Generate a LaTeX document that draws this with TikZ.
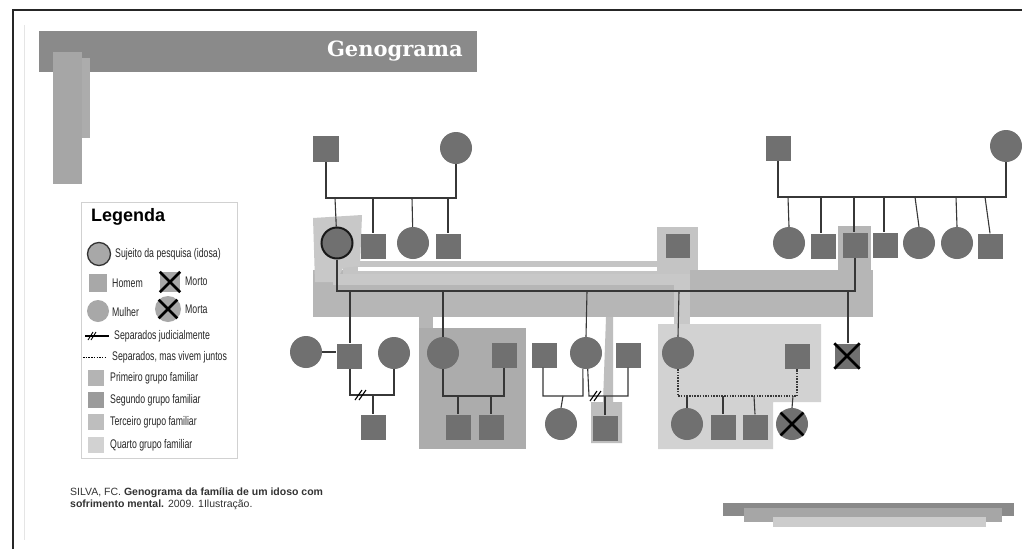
\documentclass[tikz,border=0pt]{standalone}
\usepackage{fontspec}
\setmainfont{Liberation Sans}
\newfontfamily\narrowf{Liberation Sans}[FakeStretch=0.7]
\newfontfamily\titlef{DejaVu Serif}
\definecolor{nodegray}{RGB}{112,112,112}
\definecolor{legsym}{RGB}{168,168,168}
\definecolor{barA}{RGB}{138,138,138}
\definecolor{barB}{RGB}{166,166,166}
\definecolor{barC}{RGB}{172,172,172}
\definecolor{bandmid}{RGB}{182,182,182}
\definecolor{bandlight}{RGB}{200,200,200}
\definecolor{framelight}{RGB}{196,196,196}
\definecolor{grpone}{RGB}{180,180,180}
\definecolor{grptwo}{RGB}{172,172,172}
\definecolor{grpthree}{RGB}{190,190,190}
\definecolor{grpfour}{RGB}{210,210,210}
\definecolor{linecol}{RGB}{55,55,55}
\tikzset{
  male/.style={rectangle, fill=nodegray, minimum size=25pt, inner sep=0pt},
  female/.style={circle, fill=nodegray, minimum size=32pt, inner sep=0pt},
  conn/.style={draw=linecol, line width=1.1pt},
  dotconn/.style={draw=linecol, line width=1.1pt, dash pattern=on 1.5pt off 1.2pt},
  xline/.style={draw=black, line width=2.6pt},
  hashline/.style={draw=black, line width=1.1pt},
  legtext/.style={anchor=west, inner sep=0pt, font=\narrowf\fontsize{12.5}{14}\selectfont, text=black!85},
  swatch/.style={rectangle, minimum size=16pt, inner sep=0pt}
}
\begin{document}
\begin{tikzpicture}[x=1pt,y=-1pt]
\useasboundingbox (0,0) rectangle (1022,549);
\fill[white] (0,0) rectangle (1022,549);
% frame lines
\draw[black!85, line width=1.2pt] (13,549) -- (13,10) -- (1022,10);
\draw[black!10, line width=0.8pt] (24,25) -- (24,540);
% title bar
\fill[barA] (39,31) rectangle (477,72);
\fill[barC] (53,58) rectangle (90,138);
\fill[barB] (53,52) rectangle (82,184);
\node[anchor=east, inner sep=0pt, text=white, font=\titlef\bfseries\fontsize{21}{23}\selectfont] (title) at (463,51) {Genograma};

% ---------- background group shapes ----------
\fill[bandmid] (313,270) rectangle (873,317);
\fill[bandmid] (838,226) rectangle (871,272);
\fill[bandmid] (419,310) rectangle (433,330);
\fill[bandlight] (333,274) rectangle (688,285);
\fill[bandlight] (674,274) rectangle (690,326);
\fill[framelight] (343,261) rectangle (690,274);
\fill[white] (358,267) rectangle (657,271);
\fill[framelight] (657,227) rectangle (698,270);
\fill[bandlight] (313,218) -- (362,215) -- (360,266) -- (343,268) -- (336,282) -- (315,282) -- cycle;
\fill[grptwo] (419,328) rectangle (526,449);
\fill[grpthree] (606,317) -- (613,317) -- (613,402) -- (622,402) -- (622,443) -- (591,443) -- (591,402) -- (603,402) -- cycle;
\fill[grpfour] (658,324) -- (821,324) -- (821,402) -- (773,402) -- (773,449) -- (658,449) -- cycle;

% ---------- top-left family ----------
\node[male, minimum size=26pt] (F1) at (326,149) {};
\node[female] (M1) at (456,148) {};
\node[female, draw=black!90, line width=2pt, minimum size=31pt] (S) at (337,243) {};
\node[male] (B1) at (373,246) {};
\node[female] (Z1) at (413,243) {};
\node[male] (B2) at (448,246) {};
\coordinate (m1L) at (326,198);
\coordinate (m1R) at (456,198);
\coordinate (d1) at (335,198);
\coordinate (d2) at (373,198);
\coordinate (d3) at (412,198);
\coordinate (d4) at (448,198);
\draw[conn] (F1) -- (m1L) -- (m1R) -- (M1);
\draw[conn] (d1) -- (S);
\draw[conn] (d2) -- (B1);
\draw[conn] (d3) -- (Z1);
\draw[conn] (d4) -- (B2);

% single person
\node[male, minimum size=24pt] (P) at (678,246) {};

% ---------- top-right family ----------
\node[male] (F2) at (778,148) {};
\node[female] (M2) at (1006,146) {};
\node[female] (C1) at (789,243) {};
\node[male] (C2) at (823,246) {};
\node[male] (H) at (855,245) {};
\node[male] (C3) at (885,245) {};
\node[female] (C4) at (919,243) {};
\node[female] (C5) at (957,243) {};
\node[male] (C6) at (990,246) {};
\coordinate (m2L) at (778,197);
\coordinate (m2R) at (1006,197);
\coordinate (e1) at (788,197);
\coordinate (e2) at (821,197);
\coordinate (e3) at (854,197);
\coordinate (e4) at (884,197);
\coordinate (e5) at (915,197);
\coordinate (e6) at (956,197);
\coordinate (e7) at (985,197);
\draw[conn] (F2) -- (m2L) -- (m2R) -- (M2);
\draw[conn] (e1) -- (C1.north);
\draw[conn] (e2) -- (C2.north -| e2);
\draw[conn] (e3) -- (H.north -| e3);
\draw[conn] (e4) -- (C3.north -| e4);
\draw[conn] (e5) -- (C4.north);
\draw[conn] (e6) -- (C5.north);
\draw[conn] (e7) -- (C6.north);

% ---------- main couple ----------
\coordinate (mmL) at (337,291);
\coordinate (mmR) at (855,291);
\draw[conn] (S) -- (mmL) -- (mmR) -- (H);

\node[male] (K1) at (349,356) {};
\node[female] (K2) at (443,353) {};
\node[female] (K3) at (586,353) {};
\node[female] (K4) at (678,353) {};
\node[male] (K5) at (847,356) {};
\coordinate (k1t) at (350,291);
\coordinate (k2t) at (443,291);
\coordinate (k3t) at (587,291);
\coordinate (k4t) at (679,291);
\coordinate (k5t) at (848,291);
\draw[conn] (k1t) -- (K1.north -| k1t);
\draw[conn] (k2t) -- (K2.north);
\draw[conn] (k3t) -- (K3.north);
\draw[conn] (k4t) -- (K4.north);
\draw[conn] (k5t) -- (K5.north -| k5t);
\draw[xline] (K5.north west) -- (K5.south east) (K5.north east) -- (K5.south west);

% ---------- K1 family ----------
\node[female] (W1) at (306,352) {};
\node[female] (W2) at (394,353) {};
\node[male] (G1) at (373,427) {};
\draw[conn] (W1.east) -- (K1.west |- W1.east);
\coordinate (s1L) at (350,395);
\coordinate (s1R) at (394,395);
\coordinate (s1c) at (373,395);
\coordinate (h1) at (360,395);
\draw[conn] (K1.south -| s1L) -- (s1L) -- (s1R) -- (W2.south);
\draw[conn] (s1c) -- (G1.north);
\draw[hashline] (h1) ++(-5,5) -- ++(7,-10);
\draw[hashline] (h1) ++(-1,5) -- ++(7,-10);

% ---------- K2 family ----------
\node[male] (H2) at (504,355) {};
\node[male] (G2) at (458,427) {};
\node[male] (G3) at (491,427) {};
\coordinate (s2L) at (443,396);
\coordinate (s2R) at (504,396);
\coordinate (g2t) at (458,396);
\coordinate (g3t) at (491,396);
\draw[conn] (K2.south) -- (s2L) -- (s2R) -- (H2.south);
\draw[conn] (g2t) -- (G2.north);
\draw[conn] (g3t) -- (G3.north);

% ---------- K3 family ----------
\node[male] (L1) at (544,355) {};
\node[male] (R1) at (628,355) {};
\node[female] (G4) at (561,424) {};
\node[male] (G5) at (605,428) {};
\coordinate (s3L) at (543,396);
\coordinate (s3R) at (583,396);
\coordinate (g4t) at (563,396);
\draw[conn] (L1.south -| s3L) -- (s3L) -- (s3R) -- (K3.259);
\draw[conn] (g4t) -- (G4.north);
\coordinate (s4L) at (589,396);
\coordinate (s4R) at (628,396);
\coordinate (g5t) at (605,396);
\coordinate (h2) at (595,396);
\draw[conn] (K3.276) -- (s4L) -- (s4R) -- (R1.south);
\draw[conn] (g5t) -- (G5.north);
\draw[hashline] (h2) ++(-5,5) -- ++(7,-10);
\draw[hashline] (h2) ++(-1,5) -- ++(7,-10);

% ---------- K4 family ----------
\node[male] (H4) at (797,356) {};
\node[female] (G6) at (687,424) {};
\node[male] (G7) at (723,427) {};
\node[male] (G8) at (755,427) {};
\node[female] (G9) at (792,424) {};
\coordinate (s5L) at (678,396);
\coordinate (s5R) at (797,396);
\coordinate (g6t) at (687,396);
\coordinate (g7t) at (723,396);
\coordinate (g8t) at (754,396);
\coordinate (g9t) at (793,396);
\draw[dotconn] (K4.south) -- (s5L) -- (s5R) -- (H4.south);
\draw[conn] (g6t) -- (G6.north);
\draw[conn] (g7t) -- (G7.north);
\draw[conn] (g8t) -- (G8.north);
\draw[conn] (g9t) -- (G9.north);
\draw[xline] (G9.45) -- (G9.225) (G9.135) -- (G9.315);

% ---------- legend ----------
\draw[black!18, fill=white, line width=0.8pt] (81,202) rectangle (237,458);
\node[anchor=west, inner sep=0pt, font=\bfseries\fontsize{18}{20}\selectfont] (legtitle) at (91,217) {Legenda};
\node[circle, fill=legsym, draw=black!80, line width=1.3pt, minimum size=23pt, inner sep=0pt] (lS) at (99,254) {};
\node[legtext] (tS) at (115,254) {Sujeito da pesquisa (idosa)};
\node[rectangle, fill=legsym, minimum size=18pt, inner sep=0pt] (lH) at (98,283) {};
\node[legtext] (tH) at (112,283) {Homem};
\node[rectangle, fill=legsym, minimum size=20pt, inner sep=0pt] (lMo) at (170,282) {};
\draw[xline] (lMo.north west) -- (lMo.south east) (lMo.north east) -- (lMo.south west);
\node[legtext] (tMo) at (185,281) {Morto};
\node[circle, fill=legsym, minimum size=22pt, inner sep=0pt] (lM) at (98,311) {};
\node[legtext] (tM) at (112,312) {Mulher};
\node[circle, fill=legsym, minimum size=26pt, inner sep=0pt] (lMa) at (168,309) {};
\draw[xline] (lMa.45) -- (lMa.225) (lMa.135) -- (lMa.315);
\node[legtext] (tMa) at (185,309) {Morta};
\coordinate (sjL) at (85,336);
\coordinate (sjR) at (109,336);
\draw[black, line width=2pt] (sjL) -- (sjR);
\coordinate (sjh) at (91,336);
\draw[black, line width=0.9pt] (sjh) ++(-3,4) -- ++(5,-8);
\draw[black, line width=0.9pt] (sjh) ++(0,4) -- ++(5,-8);
\node[legtext] (tSJ) at (114,336) {Separados judicialmente};
\coordinate (svL) at (83,357);
\coordinate (svR) at (107,357);
\draw[black, line width=0.8pt, dash pattern=on 1.5pt off 1.2pt] (svL) -- (svR);
\node[legtext] (tSV) at (112,357) {Separados, mas vivem juntos};
\node[swatch, fill=grpone] (q1) at (96,378) {};
\node[legtext] (t1) at (110,378) {Primeiro grupo familiar};
\node[swatch, fill=grptwo!90!black] (q2) at (96,400) {};
\node[legtext] (t2) at (110,400) {Segundo grupo familiar};
\node[swatch, fill=grpthree] (q3) at (96,422) {};
\node[legtext] (t3) at (110,422) {Terceiro grupo familiar};
\node[swatch, fill=grpfour] (q4) at (96,445) {};
\node[legtext] (t4) at (110,445) {Quarto grupo familiar};

% ---------- citation ----------
\node[anchor=west, align=left, inner sep=0pt, text=black!80, font=\fontsize{10.5}{12}\selectfont] (cite) at (70,499)
  {SILVA, FC. \textbf{Genograma da família de um idoso com}\\\textbf{sofrimento mental.} 2009. 1Ilustração.};

% ---------- bottom-right bars ----------
\fill[barA] (723,503) rectangle (1014,516);
\fill[barB] (744,508) rectangle (1002,522);
\fill[black!20] (773,517) rectangle (986,527);
\end{tikzpicture}
\end{document}
